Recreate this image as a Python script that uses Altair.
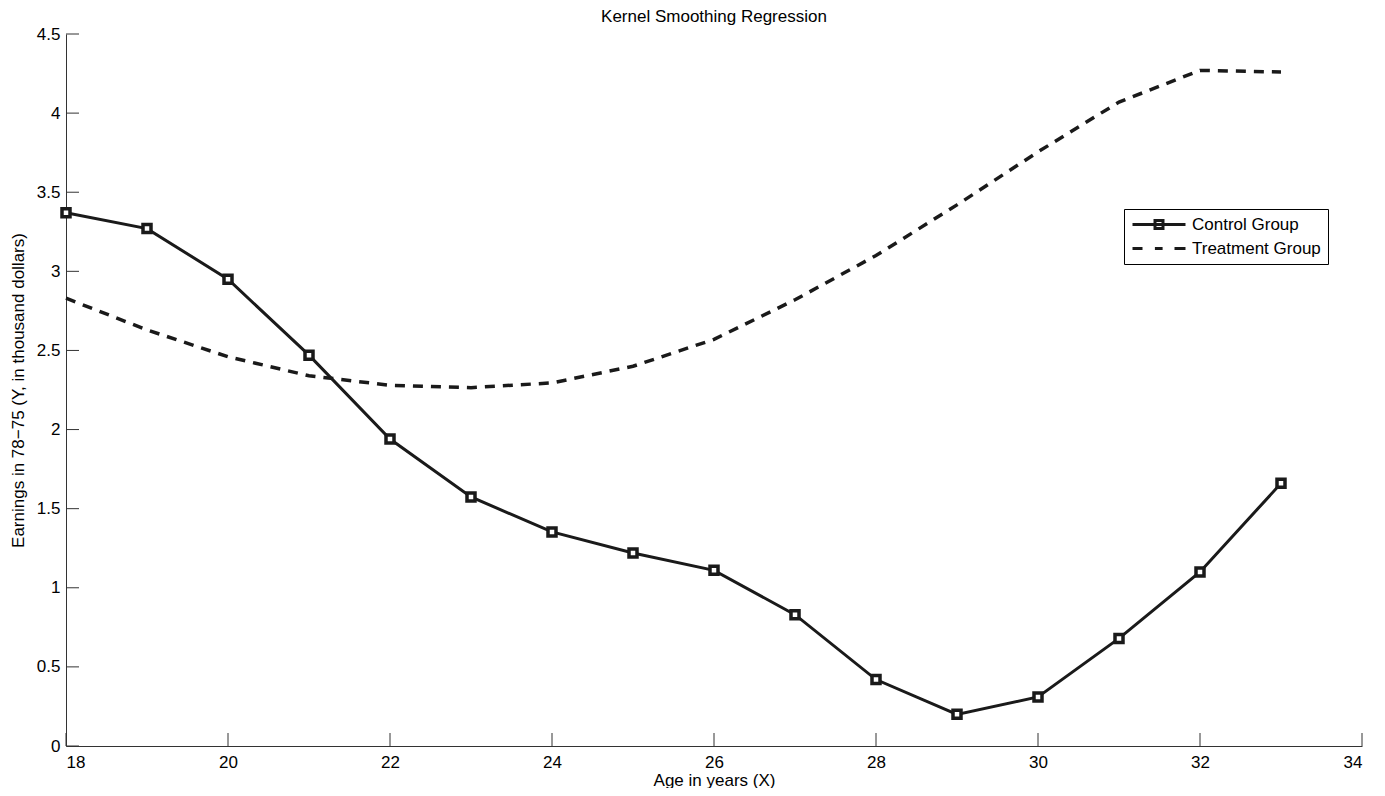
import altair as alt
import pandas as pd

ages = list(range(18, 34))
control = [3.37, 3.27, 2.95, 2.47, 1.94, 1.574, 1.353, 1.22, 1.11, 0.83, 0.42, 0.20, 0.31, 0.68, 1.10, 1.66]
treatment = [2.83, 2.63, 2.46, 2.34, 2.28, 2.265, 2.295, 2.40, 2.57, 2.82, 3.10, 3.42, 3.755, 4.07, 4.27, 4.26]
series_names = ["Control Group", "Treatment Group"]
x_ticks = [18, 20, 22, 24, 26, 28, 30, 32, 34]
y_ticks = [0, 0.5, 1, 1.5, 2, 2.5, 3, 3.5, 4, 4.5]
chart_title = "Kernel Smoothing Regression"

W, H = 1296, 712
INK = "#1a1a1a"
FONT = "Liberation Sans"

df_c = pd.DataFrame({"age": ages, "earn": control})
df_t = pd.DataFrame({"age": ages, "earn": treatment})
df_leg = pd.DataFrame({"series": series_names, "age": [18, 18], "earn": [0, 0]})
df_xt = pd.DataFrame({"t": x_ticks})
df_yt = pd.DataFrame({"t": y_ticks})
df_title = pd.DataFrame({"label": [chart_title]})

xs = alt.Scale(domain=[18, 34], nice=False, zero=False)
ys = alt.Scale(domain=[0, 4.5], nice=False, zero=False)

xax = alt.Axis(values=x_ticks, ticks=False, tickSize=0, grid=False, labelPadding=8, format="d",
               title="Age in years (X)", titlePadding=2)
yax = alt.Axis(values=y_ticks, ticks=False, tickSize=0, grid=False, labelPadding=6,
               title="Earnings in 78\u221275 (Y, in thousand dollars)", titlePadding=9,
               labelExpr="datum.value == 0 ? '0' : format(datum.value, '.1~f')")

line_c = alt.Chart(df_c).mark_line(color=INK, strokeWidth=3).encode(
    x=alt.X("age:Q", scale=xs, axis=xax),
    y=alt.Y("earn:Q", scale=ys, axis=yax),
)
pts_c = alt.Chart(df_c).mark_point(shape="square", size=64, filled=False, fill="white",
                                   stroke=INK, strokeWidth=3.5, opacity=1).encode(
    x=alt.X("age:Q", scale=xs), y=alt.Y("earn:Q", scale=ys))
line_t = alt.Chart(df_t).mark_line(color=INK, strokeWidth=3.5, strokeDash=[10, 8]).encode(
    x=alt.X("age:Q", scale=xs), y=alt.Y("earn:Q", scale=ys))

# legend glyphs: unit = 7px, symbol centre 7px from its left edge
path_c = "M-1,0H6.571M2.215,-0.571H3.357V0.571H2.215Z"
path_t = "M-1,0H0.43M2.2,0H3.3M5.0,0H6.571"

legend_layer = alt.Chart(df_leg).transform_filter("false").mark_point(
    filled=False, color=INK, strokeWidth=3, opacity=1).encode(
    x=alt.X("age:Q", scale=xs), y=alt.Y("earn:Q", scale=ys),
    shape=alt.Shape("series:N",
                    scale=alt.Scale(domain=series_names, range=[path_c, path_t]),
                    legend=alt.Legend(title=None, orient="none", legendX=1058, legendY=175,
                                      strokeColor="black", fillColor="white", padding=7,
                                      symbolSize=196, symbolStrokeWidth=3,
                                      symbolStrokeColor=INK, symbolFillColor=INK,
                                      symbolOpacity=1, labelFontSize=17, labelFont=FONT,
                                      labelColor="black", labelOffset=44, rowPadding=4,
                                      cornerRadius=0)),
)

xticks_layer = alt.Chart(df_xt).mark_rule(color="#333", strokeWidth=1).encode(
    x=alt.X("t:Q", scale=xs), y=alt.value(H), y2=alt.value(H - 13))
yticks_layer = alt.Chart(df_yt).mark_rule(color="#333", strokeWidth=1).encode(
    y=alt.Y("t:Q", scale=ys), x=alt.value(0), x2=alt.value(13))

title_layer = alt.Chart(df_title).mark_text(
    font=FONT, fontSize=17, color="black", align="center", baseline="alphabetic").encode(
    text="label:N", x=alt.value(W / 2), y=alt.value(-12))

chart = alt.layer(xticks_layer, yticks_layer, line_t, line_c, pts_c, legend_layer,
                  title_layer).properties(
    width=W, height=H,
    autosize=alt.AutoSizeParams(type="none"),
    padding={"left": 58, "top": 26, "right": 15, "bottom": 42},
).configure_view(stroke=None).configure_axis(
    domainColor="#333", domainWidth=1, labelFont=FONT, labelFontSize=17, labelColor="black",
    titleFont=FONT, titleFontSize=17, titleFontWeight="normal", titleColor="black",
)

chart.save("out.html", embed_options={"renderer": "svg", "actions": False})
